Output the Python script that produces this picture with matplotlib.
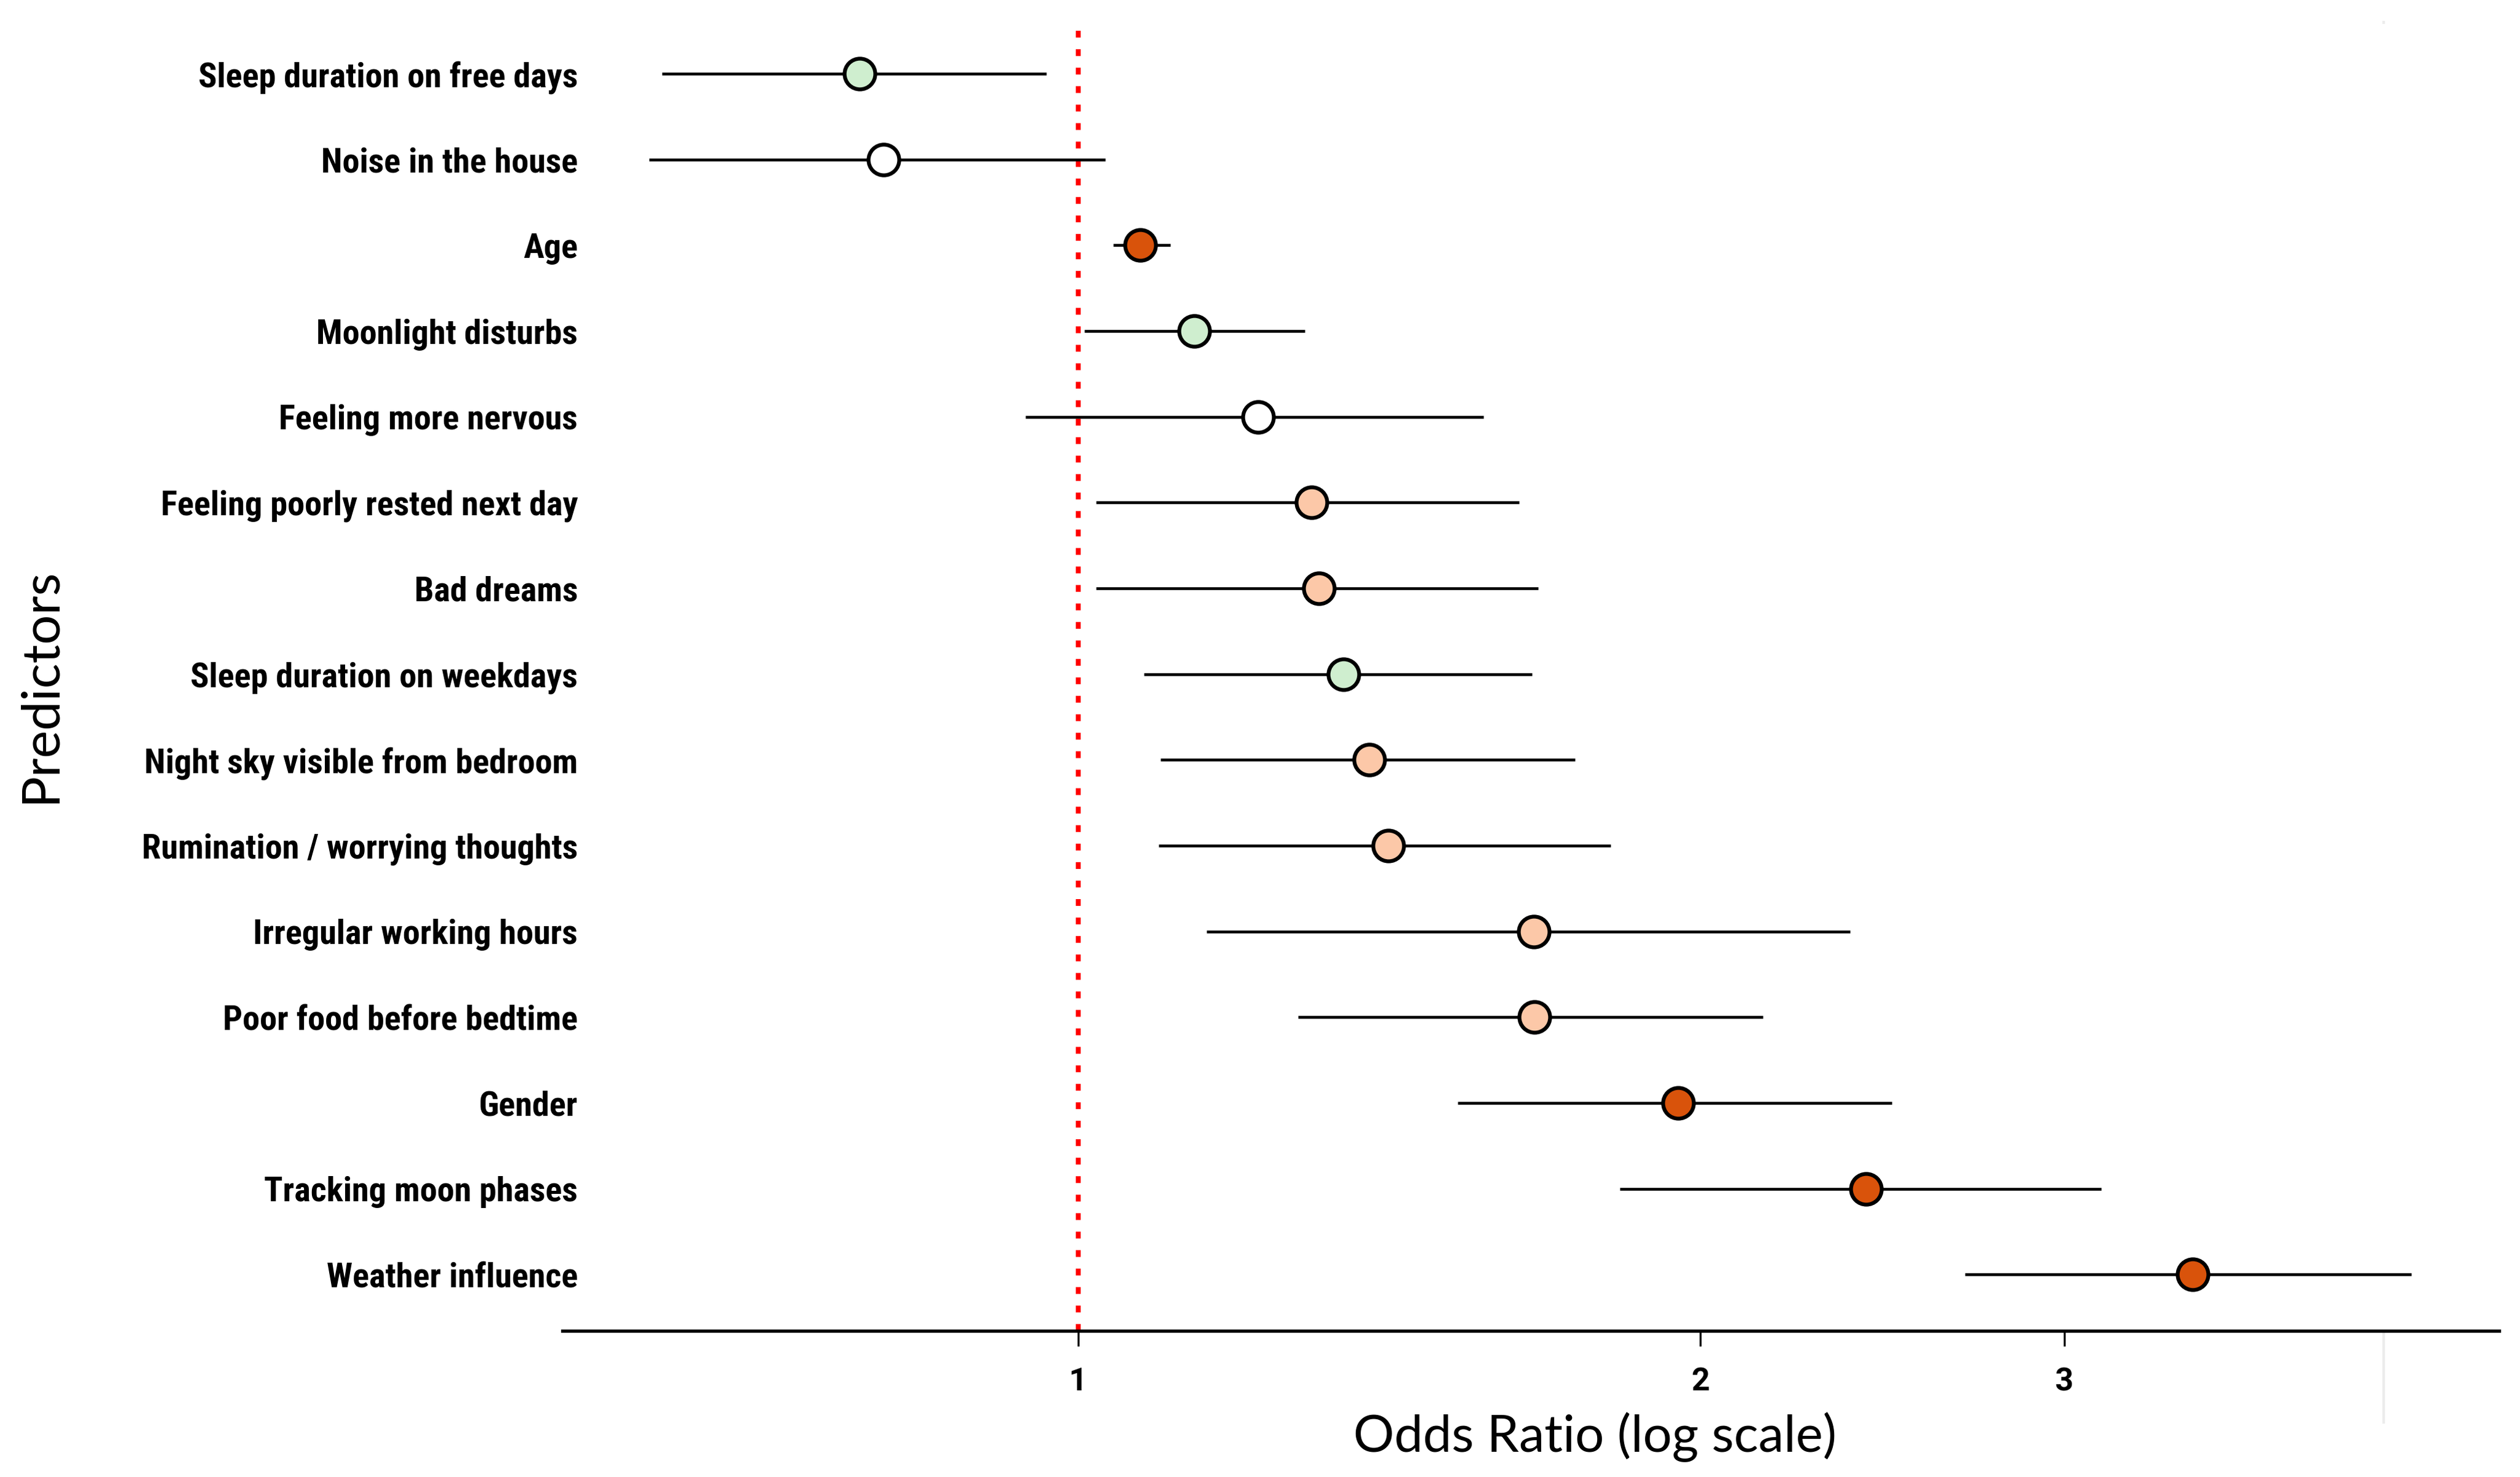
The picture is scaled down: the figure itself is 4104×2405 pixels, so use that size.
"""Forest plot of odds ratios (log scale) for sleep predictors."""

import matplotlib.pyplot as plt
import matplotlib.ticker as ticker
from matplotlib.lines import Line2D

# ---------------------------------------------------------------------------
# Data (top row first)
# ---------------------------------------------------------------------------
predictors = [
    "Sleep duration on free days",
    "Noise in the house",
    "Age",
    "Moonlight disturbs",
    "Feeling more nervous",
    "Feeling poorly rested next day",
    "Bad dreams",
    "Sleep duration on weekdays",
    "Night sky visible from bedroom",
    "Rumination / worrying thoughts",
    "Irregular working hours",
    "Poor food before bedtime",
    "Gender",
    "Tracking moon phases",
    "Weather influence",
]
odds_ratio = [0.784, 0.805, 1.072, 1.138, 1.222, 1.297, 1.308, 1.344,
              1.383, 1.413, 1.661, 1.663, 1.951, 2.406, 3.462]
ci_low = [0.629, 0.620, 1.040, 1.007, 0.943, 1.020, 1.020, 1.076,
          1.096, 1.094, 1.154, 1.278, 1.526, 1.829, 2.685]
ci_high = [0.965, 1.031, 1.108, 1.287, 1.571, 1.634, 1.669, 1.658,
           1.740, 1.810, 2.363, 2.145, 2.476, 3.126, 4.417]
group = ["green", "white", "dark", "green", "white", "peach", "peach", "green",
         "peach", "peach", "peach", "peach", "dark", "dark", "dark"]

COLORS = {
    "green": "#cfeecf",
    "white": "#ffffff",
    "peach": "#fcc8a8",
    "dark": "#d9530b",
}

LABEL_FONT = ["Liberation Sans Narrow", "Roboto Condensed", "Liberation Sans"]

# ---------------------------------------------------------------------------
# Plot
# ---------------------------------------------------------------------------
fig = plt.figure(figsize=(13.68, 8.0167), dpi=300)
ax = fig.add_axes([0.2232, 0.099, 0.7685, 0.8847])

ypos = list(range(len(predictors)))

for y, o, lo, hi, g in zip(ypos, odds_ratio, ci_low, ci_high, group):
    ax.plot([lo, hi], [y, y], color="black", lw=1.1, zorder=2, solid_capstyle="butt")
    ax.plot(o, y, "o", ms=12, mfc=COLORS[g], mec="black", mew=1.5, zorder=3)

ax.axvline(1, color="#ff0000", lw=1.9, ls=(0, (1.4, 2.4)), zorder=1)

ax.set_xscale("log")
ax.set_xlim(0.563, 4.87)
ax.set_ylim(14.656, -0.58)

ax.xaxis.set_major_locator(ticker.FixedLocator([1, 2, 3]))
ax.xaxis.set_major_formatter(ticker.FixedFormatter(["1", "2", "3"]))
ax.xaxis.set_minor_locator(ticker.NullLocator())
ax.tick_params(axis="x", direction="out", length=6, width=0.8, pad=8, labelsize=12.5)
for lab in ax.get_xticklabels():
    lab.set_fontweight("bold")
    lab.set_family(["Roboto", "DejaVu Sans"])

ax.set_yticks(ypos)
ax.set_yticklabels(predictors)
ax.tick_params(axis="y", length=0, pad=-6)
for lab in ax.get_yticklabels():
    lab.set_fontweight("bold")
    lab.set_fontsize(13.5)
    lab.set_family(LABEL_FONT)

for side in ("top", "right", "left"):
    ax.spines[side].set_visible(False)
ax.spines["bottom"].set_linewidth(1.3)

# faint vertical rule near the right edge
fig.add_artist(Line2D([0.9458, 0.9458], [0.037, 0.985], transform=fig.transFigure,
                      color="#ececec", lw=1.0, zorder=0))

fig.text(0.016, 0.536, "Predictors", rotation=90, ha="center", va="center",
         fontsize=20.5, family=["Lato", "DejaVu Sans"])
fig.text(0.633, 0.027, "Odds Ratio (log scale)", ha="center", va="center",
         fontsize=20, family=["Lato", "DejaVu Sans"])

fig.savefig("out.png", dpi=300)
print("Saved out.png")
